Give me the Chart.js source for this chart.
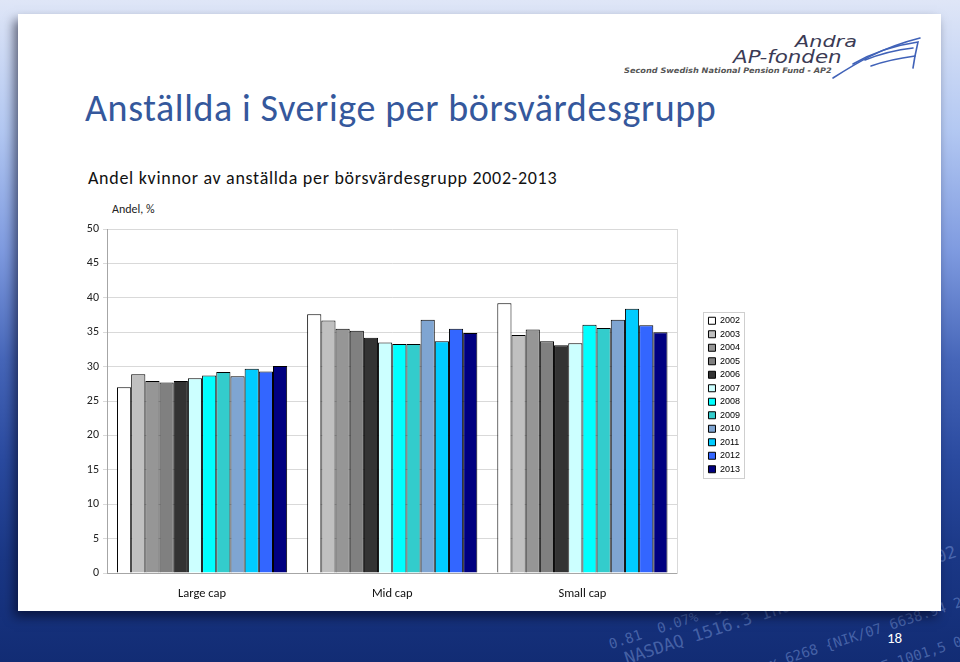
<!DOCTYPE html>
<html>
<head>
<meta charset="utf-8">
<script src="https://cdn.jsdelivr.net/npm/chart.js@4/dist/chart.umd.min.js"></script>
<style>
  html, body { margin: 0; padding: 0; }
  body {
    width: 960px; height: 662px; position: relative; overflow: hidden;
    background: linear-gradient(to bottom, #dfe6f7 0px, #b3c8f2 130px, #7f9be0 250px, #4666b9 360px, #2a4a9f 460px, #1a3785 560px, #122c74 662px);
    font-family: Carlito, Lato, sans-serif;
  }
  #slide {
    position: absolute; left: 18px; top: 14px; width: 923px; height: 597px;
    background: #fff; box-shadow: -4px 6px 10px rgba(0,0,20,0.55);
  }
  .abs { position: absolute; white-space: nowrap; line-height: 1.2; }
  #title { left: 85px; top: 86px; font-size: 38px; color: #35589c; letter-spacing: 0.6px; }
  #subtitle { left: 88px; top: 168px; font-size: 18px; color: #111; letter-spacing: 0.7px; }
  #ylabel { left: 112px; top: 202px; font-size: 12px; color: #222; }
  #chartBox { position: absolute; left: 40px; top: 200px; width: 720px; height: 410px; }
  .tick { color: rgba(150,180,240,0.4); font-family: "DejaVu Sans Mono", monospace; transform: rotate(-18deg); transform-origin: left bottom; }
  #pagenum { left: 887px; top: 629px; font-size: 15px; color: #fff; }
  .logo { font-family: "DejaVu Sans", sans-serif; font-style: italic; color: #3b3b55; transform-origin: left top; }
</style>
</head>
<body>
<div class="abs tick" style="left:612px; top:636px; font-size:14px;">0.81 &nbsp;0.07% &nbsp;3.30 &nbsp;21,872</div>
<div class="abs tick" style="left:628px; top:648px; font-size:17px;">NASDAQ 1516.3 Industrial 2,074,702,152</div>
<div class="abs tick" style="left:740px; top:666px; font-size:14px;">Index 6268 {NIK/07 6638.94 2.1</div>
<div class="abs tick" style="left:860px; top:666px; font-size:14px;">FTSE 1001,5 0.73%</div>
<div id="slide"></div>
<div class="abs logo" style="left:795px; top:32px; font-size:16px; transform: scaleX(1.3);">Andra</div>
<div class="abs logo" style="left:733px; top:47px; font-size:17px; transform: scaleX(1.26);">AP-fonden</div>
<div class="abs logo" style="left:624px; top:66px; font-size:7.5px; font-weight:bold; color:#555; transform: scaleX(1.09);">Second Swedish National Pension Fund - AP2</div>
<svg class="abs" style="left:825px; top:34px;" width="100" height="48" viewBox="0 0 100 48">
  <g fill="none" stroke="#4062b8" stroke-width="1.6" stroke-linecap="round">
    <path d="M8 44 C30 30 55 14 95 4"/>
    <path d="M28 30 C45 20 65 12 93 8 L90 22"/>
    <path d="M40 26 C55 20 70 16 88 14"/>
    <path d="M46 32 C60 27 75 24 90 22 L88 34"/>
  </g>
</svg>
<div id="title" class="abs">Anställda i Sverige per börsvärdesgrupp</div>
<div id="subtitle" class="abs">Andel kvinnor av anställda per börsvärdesgrupp 2002-2013</div>
<div id="ylabel" class="abs">Andel, %</div>
<div id="chartBox"><canvas id="chart" width="720" height="410"></canvas></div>
<div id="pagenum" class="abs">18</div>
<script>
const categories = ["Large cap", "Mid cap", "Small cap"];
const years = ["2002", "2003", "2004", "2005", "2006", "2007", "2008", "2009", "2010", "2011", "2012", "2013"];
const largeCap = [27.0, 28.9, 27.9, 27.7, 27.9, 28.3, 28.7, 29.2, 28.6, 29.7, 29.3, 30.1];
const midCap = [37.6, 36.7, 35.5, 35.2, 34.2, 33.5, 33.3, 33.3, 36.8, 33.7, 35.5, 34.9];
const smallCap = [39.2, 34.6, 35.4, 33.7, 33.1, 33.4, 36.1, 35.6, 36.8, 38.4, 36.0, 35.0];
const yearColors = ["#FFFFFF", "#C0C0C0", "#969696", "#808080", "#333333", "#CCFFFF",
                    "#00FFFF", "#33CCCC", "#7FA5D2", "#00CCFF", "#3366FF", "#000080"];
const yTicks = [0, 5, 10, 15, 20, 25, 30, 35, 40, 45, 50];

const GRID = "#d9d9d9";

let datasets = years.map((y, i) => ({
    label: y,
    data: [largeCap[i], midCap[i], smallCap[i]],
    backgroundColor: yearColors[i],
    borderColor: "#000",
    borderWidth: 1,
    categoryPercentage: 0.895,
    barPercentage: 1.0
}));

// frame around the legend, like the Excel legend box
const legendFrame = {
    id: "legendFrame",
    afterLayout(chart) {
        // nudge the legend up a little
        chart.legend.top -= 6;
        chart.legend.bottom -= 6;
    },
    afterDraw(chart) {
        const hb = chart.legend.legendHitBoxes;
        if (!hb || !hb.length) return;
        let l = Math.min(...hb.map(b => b.left)) - 5;
        let t = Math.min(...hb.map(b => b.top)) - 4;
        let r = Math.max(...hb.map(b => b.left + b.width)) + 4;
        let btm = Math.max(...hb.map(b => b.top + b.height)) + 4;
        const ctx = chart.ctx;
        ctx.save();
        ctx.strokeStyle = "#cfcfcf";
        ctx.lineWidth = 1;
        ctx.strokeRect(Math.round(l) + 0.5, Math.round(t) + 0.5, Math.round(r - l), Math.round(btm - t));
        ctx.restore();
    }
};

Chart.defaults.font.family = "Carlito, Lato, sans-serif";
Chart.defaults.color = "#222";

new Chart(document.getElementById("chart"), {
    type: "bar",
    data: { labels: categories, datasets: datasets },
    options: {
        responsive: false,
        animation: false,
        layout: { padding: { top: 29, right: 10, left: 0, bottom: 0 } },
        plugins: {
            legend: {
                position: "right",
                fullSize: false,
                align: "center",
                labels: {
                    boxWidth: 7, boxHeight: 7, padding: 4.5,
                    color: "#000",
                    font: { family: "'Liberation Sans', Arial, sans-serif", size: 9 }
                }
            },
            tooltip: { enabled: false }
        },
        scales: {
            x: {
                grid: { display: false, drawTicks: false },
                border: { color: "#a6a6a6" },
                ticks: { padding: 13, font: { size: 12.5 }, color: "#111" },
                afterFit: s => { s.height = 37; }
            },
            y: {
                min: 0, max: 50,
                afterBuildTicks: s => { s.ticks = yTicks.map(v => ({ value: v })); },
                grid: { color: GRID, tickLength: 4 },
                border: { color: "#a6a6a6" },
                ticks: { padding: 4, font: { size: 12 }, color: "#222" },
                afterFit: s => { s.width = 67; }
            },
            y2: {
                position: "right",
                min: 0, max: 50,
                grid: { drawOnChartArea: false, drawTicks: false },
                border: { color: GRID },
                ticks: { display: false },
                afterFit: s => { s.width = 26.5; }
            }
        }
    },
    plugins: [legendFrame]
});
</script>
</body>
</html>
